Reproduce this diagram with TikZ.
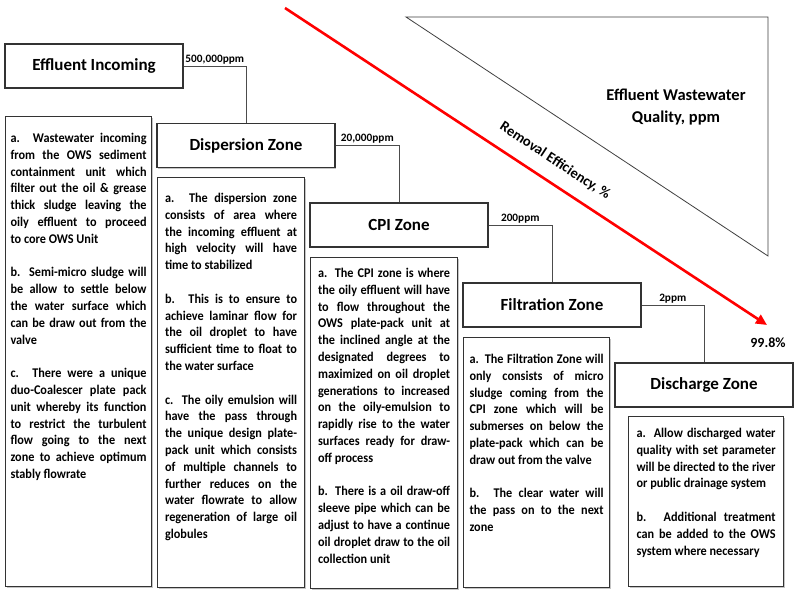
\documentclass[tikz,border=0pt]{standalone}
\usepackage{fontspec}
\setmainfont{Carlito}
\newfontfamily\bodyfont[FakeStretch=0.92]{Carlito}
\usetikzlibrary{arrows.meta,shadows}
\newcommand{\jline}[1]{\makebox[\linewidth][s]{#1}\par}
\newcommand{\lline}[1]{#1\par}
\newcommand{\pgap}{\vspace{16.8pt}}
\newcommand{\bodybox}[4]{% width, height, first baseline, content
  \begin{minipage}[t][#2][t]{#1}\bodyfont\fontsize{13.3}{16.8}\selectfont\bfseries
  \setlength{\parindent}{0pt}\setlength{\parskip}{0pt}\hbadness=10000 \hfuzz=20pt
  \rule{0pt}{#3}\ignorespaces#4\end{minipage}}
\tikzset{
  titlebox/.style={draw=black!80, line width=1.1pt, fill=white, minimum width=178pt, minimum height=44pt, inner sep=0pt,
    font=\fontsize{17}{19}\selectfont\bfseries,
    drop shadow={shadow xshift=1.2pt, shadow yshift=-1.2pt, fill=black!45}},
  textbox/.style={draw=black!80, line width=1.1pt, fill=white, anchor=north west, inner ysep=0pt,
    drop shadow={shadow xshift=1.2pt, shadow yshift=-1.2pt, fill=black!45}},
  link/.style={draw=black!70, line width=0.9pt},
  ppm/.style={font=\fontsize{11.3}{13}\selectfont\bfseries, above, inner sep=1.5pt},
}
\begin{document}
\begin{tikzpicture}[x=1pt,y=-1pt]
\useasboundingbox (0,0) rectangle (800,600);
\fill[white] (0,0) rectangle (800,600);

% triangle
\draw[black!75, line width=0.8pt] (406,17) -- (768,17) -- (768,256) -- cycle;
\node[font=\fontsize{16.5}{22}\selectfont\bfseries, align=center] (quality) at (676,107) {Effluent Wastewater\\Quality, ppm};

% red arrow
\coordinate (rs) at (285,8);
\coordinate (re) at (767,325);
\draw[red, line width=2.6pt, -{Triangle[length=11pt,width=10pt]}] (rs) -- (re);
\node[font=\fontsize{14.5}{16}\selectfont\bfseries, rotate=-33.3] (remeff) at (555,161) {Removal Efficiency, \%};
\node[font=\fontsize{14}{16}\selectfont\bfseries] (pct) at (768,343) {99.8\%};

% title boxes
\node[titlebox] (inc) at (94,66) {Effluent Incoming};
\node[titlebox] (disp) at (246,145.5) {Dispersion Zone};
\node[titlebox] (cpi) at (399,225) {CPI Zone};
\node[titlebox] (filt) at (552,305) {Filtration Zone};
\node[titlebox] (disch) at (704,385) {Discharge Zone};

% connectors
\draw[link] (inc.east) -| node[ppm, pos=0.25] (l1) {500,000ppm} (disp.north);
\draw[link] (disp.east) -| node[ppm, pos=0.25] (l2) {20,000ppm} (cpi.north);
\draw[link] (cpi.east) -| node[ppm, pos=0.25] (l3) {200ppm} (filt.north);
\draw[link] (filt.east) -| node[ppm, pos=0.25] (l4) {2ppm} (disch.north);

% text boxes
\node[textbox, inner xsep=5pt] (t1) at (5,116) {\bodybox{136pt}{470pt}{26pt}{%
\jline{a. Wastewater incoming}
\jline{from the OWS sediment}
\jline{containment unit which}
\jline{filter out the oil \& grease}
\jline{thick sludge leaving the}
\jline{oily effluent to proceed}
\lline{to core OWS Unit}
\pgap
\jline{b. Semi-micro sludge will}
\jline{be allow to settle below}
\jline{the water surface which}
\jline{can be draw out from the}
\lline{valve}
\pgap
\jline{c. There were a unique}
\jline{duo-Coalescer plate pack}
\jline{unit whereby its function}
\jline{to restrict the turbulent}
\jline{flow going to the next}
\jline{zone to achieve optimum}
\lline{stably flowrate}}};

\node[textbox, inner xsep=7.5pt] (t2) at (157,177) {\bodybox{132pt}{410pt}{25pt}{%
\jline{a. The dispersion zone}
\jline{consists of area where}
\jline{the incoming effluent at}
\jline{high velocity will have}
\lline{time to stabilized}
\pgap
\jline{b. This is to ensure to}
\jline{achieve laminar flow for}
\jline{the oil droplet to have}
\jline{sufficient time to float to}
\lline{the water surface}
\pgap
\jline{c. The oily emulsion will}
\jline{have the pass through}
\jline{the unique design plate-}
\jline{pack unit which consists}
\jline{of multiple channels to}
\jline{further reduces on the}
\jline{water flowrate to allow}
\jline{regeneration of large oil}
\lline{globules}}};

\node[textbox, inner xsep=7.5pt] (t3) at (310,257) {\bodybox{132pt}{331pt}{20pt}{%
\jline{a. The CPI zone is where}
\jline{the oily effluent will have}
\jline{to flow throughout the}
\jline{OWS plate-pack unit at}
\jline{the inclined angle at the}
\jline{designated degrees to}
\jline{maximized on oil droplet}
\jline{generations to increased}
\jline{on the oily-emulsion to}
\jline{rapidly rise to the water}
\jline{surfaces ready for draw-}
\lline{off process}
\pgap
\jline{b. There is a oil draw-off}
\jline{sleeve pipe which can be}
\jline{adjust to have a continue}
\jline{oil droplet draw to the oil}
\lline{collection unit}}};

\node[textbox, inner xsep=6pt] (t4) at (463,337) {\bodybox{134pt}{250pt}{26pt}{%
\jline{a. The Filtration Zone will}
\jline{only consists of micro}
\jline{sludge coming from the}
\jline{CPI zone which will be}
\jline{submerses on below the}
\jline{plate-pack which can be}
\lline{draw out from the valve}
\pgap
\jline{b. The clear water will}
\jline{the pass on to the next}
\lline{zone}}};

\node[textbox, inner xsep=8pt] (t5) at (628,416) {\bodybox{139pt}{170pt}{21pt}{%
\jline{a. Allow discharged water}
\jline{quality with set parameter}
\jline{will be directed to the river}
\lline{or public drainage system}
\pgap
\jline{b. Additional treatment}
\jline{can be added to the OWS}
\lline{system where necessary}}};
\end{tikzpicture}
\end{document}
